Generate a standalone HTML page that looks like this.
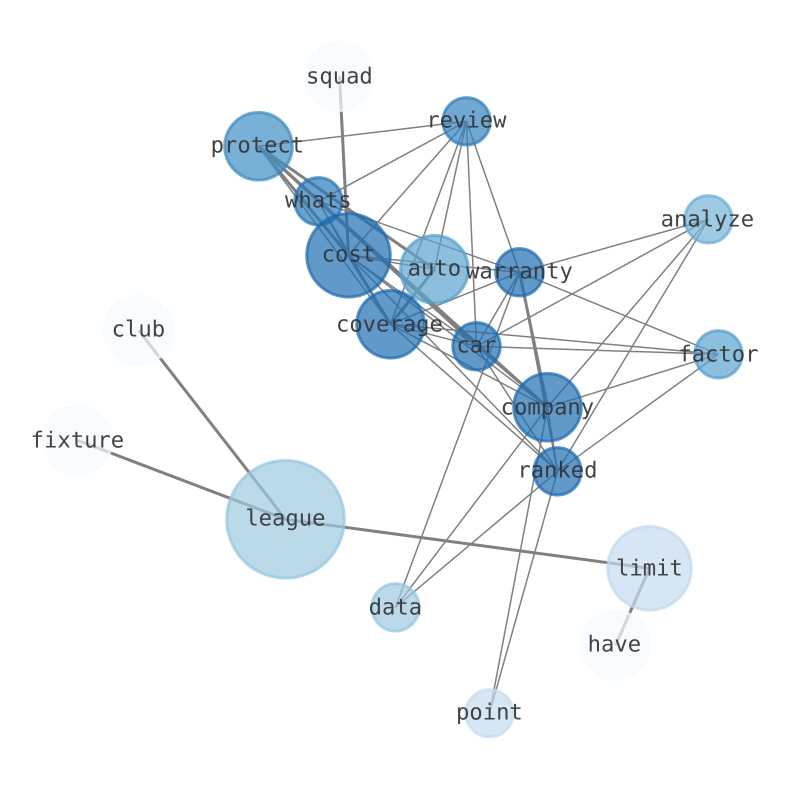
<!DOCTYPE html>
<html>
<head>
<meta charset="utf-8">
<style>
html,body{margin:0;padding:0;background:#fff;width:794px;height:790px;overflow:hidden}
svg{display:block}
text{font-family:"DejaVu Sans Mono","Liberation Mono",monospace;font-size:22.2px;fill:#333;fill-opacity:.92;text-anchor:middle;text-rendering:geometricPrecision}
.e line{stroke:#808080;stroke-width:1.5}
.t line{stroke:#808080;stroke-width:3}
circle{fill-opacity:.7;stroke-opacity:.7;stroke-width:3}
</style>
</head>
<body>
<svg width="794" height="790" viewBox="0 0 794 790" xmlns="http://www.w3.org/2000/svg">
<g transform="translate(.5,.3)">
<g class="e">
<line x1="466" y1="121" x2="258" y2="146"/>
<line x1="466" y1="121" x2="318" y2="201"/>
<line x1="466" y1="121" x2="348" y2="255"/>
<line x1="466" y1="121" x2="434" y2="269"/>
<line x1="466" y1="121" x2="390" y2="324"/>
<line x1="466" y1="121" x2="476" y2="346"/>
<line x1="466" y1="121" x2="519" y2="272"/>
<line x1="708" y1="219" x2="519" y2="272"/>
<line x1="708" y1="219" x2="476" y2="346"/>
<line x1="708" y1="219" x2="547" y2="407"/>
<line x1="708" y1="219" x2="557" y2="471"/>
<line x1="718" y1="354" x2="519" y2="272"/>
<line x1="718" y1="354" x2="476" y2="346"/>
<line x1="718" y1="354" x2="390" y2="324"/>
<line x1="718" y1="354" x2="547" y2="407"/>
<line x1="718" y1="354" x2="557" y2="471"/>
<line x1="519" y1="272" x2="476" y2="346"/>
<line x1="519" y1="272" x2="390" y2="324"/>
<line x1="519" y1="272" x2="348" y2="255"/>
<line x1="519" y1="272" x2="318" y2="201"/>
<line x1="519" y1="272" x2="395" y2="607"/>
<line x1="519" y1="272" x2="557" y2="471"/>
<line x1="395" y1="607" x2="547" y2="407"/>
<line x1="395" y1="607" x2="557" y2="471"/>
<line x1="489" y1="713" x2="547" y2="407"/>
<line x1="489" y1="713" x2="557" y2="471"/>
<line x1="348" y1="255" x2="434" y2="269"/>
<line x1="348" y1="255" x2="476" y2="346"/>
<line x1="348" y1="255" x2="547" y2="407"/>
<line x1="348" y1="255" x2="557" y2="471"/>
<line x1="390" y1="324" x2="476" y2="346"/>
<line x1="390" y1="324" x2="547" y2="407"/>
<line x1="390" y1="324" x2="557" y2="471"/>
<line x1="476" y1="346" x2="547" y2="407"/>
<line x1="476" y1="346" x2="557" y2="471"/>
<line x1="547" y1="407" x2="557" y2="471"/>
<line x1="258" y1="146" x2="318" y2="201"/>
<line x1="258" y1="146" x2="390" y2="324"/>
<line x1="318" y1="201" x2="348" y2="255"/>
<line x1="318" y1="201" x2="390" y2="324"/>
<line x1="318" y1="201" x2="476" y2="346"/>
<line x1="318" y1="201" x2="547" y2="407"/>
</g>
<g class="t">
<line x1="339" y1="76" x2="348" y2="255"/>
<line x1="138" y1="330" x2="285" y2="519"/>
<line x1="77" y1="440" x2="285" y2="519"/>
<line x1="285" y1="519" x2="649" y2="568"/>
<line x1="649" y1="568" x2="615" y2="645"/>
<line x1="519" y1="272" x2="547" y2="407"/>
<line x1="258" y1="146" x2="348" y2="255"/>
<line x1="258" y1="146" x2="434" y2="269"/>
<line x1="258" y1="146" x2="476" y2="346"/>
<line x1="258" y1="146" x2="547" y2="407"/>
<line x1="348" y1="255" x2="390" y2="324"/>
<line x1="434" y1="269" x2="390" y2="324"/>
</g>
<circle cx="339" cy="76" r="34.3" fill="#f7fbff" stroke="#f7fbff"/>
<circle cx="466" cy="121" r="23.7" fill="#3383be" stroke="#2c7cba"/>
<circle cx="258" cy="146" r="33.8" fill="#3f8ec4" stroke="#3a89c1"/>
<circle cx="318" cy="201" r="23.7" fill="#2b7bba" stroke="#2575b7"/>
<circle cx="348" cy="255" r="41.8" fill="#1e6db2" stroke="#1b69af"/>
<circle cx="434" cy="269" r="33.8" fill="#5ba3d0" stroke="#529dcc"/>
<circle cx="519" cy="272" r="23.7" fill="#1e6db2" stroke="#1b69af"/>
<circle cx="708" cy="219" r="23.7" fill="#75b4d8" stroke="#6aaed6"/>
<circle cx="390" cy="324" r="33.8" fill="#1e6db2" stroke="#1b69af"/>
<circle cx="476" cy="346" r="23.7" fill="#1e6db2" stroke="#1b69af"/>
<circle cx="718" cy="354" r="23.7" fill="#5ba3d0" stroke="#529dcc"/>
<circle cx="547" cy="407" r="33.8" fill="#1e6db2" stroke="#1b69af"/>
<circle cx="138" cy="330" r="34.3" fill="#f7fbff" stroke="#f7fbff"/>
<circle cx="77" cy="440" r="34.3" fill="#f7fbff" stroke="#f7fbff"/>
<circle cx="557" cy="471" r="23.7" fill="#1e6db2" stroke="#1b69af"/>
<circle cx="285" cy="519" r="58.8" fill="#9cc9e0" stroke="#94c4df"/>
<circle cx="649" cy="568" r="41.8" fill="#c6dbef" stroke="#c1d9ed"/>
<circle cx="395" cy="607" r="23.7" fill="#9cc9e0" stroke="#94c4df"/>
<circle cx="615" cy="645" r="34.3" fill="#f7fbff" stroke="#f7fbff"/>
<circle cx="489" cy="713" r="23.7" fill="#c6dbef" stroke="#c6dbef"/>
</g>
<g transform="translate(.4,.6)">
<text x="339" y="83">squad</text>
<text x="466" y="127">review</text>
<text x="257" y="152">protect</text>
<text x="318" y="207">whats</text>
<text x="348" y="261">cost</text>
<text x="434" y="275">auto</text>
<text x="519" y="278">warranty</text>
<text x="707" y="226">analyze</text>
<text x="389" y="331">coverage</text>
<text x="476" y="352">car</text>
<text x="718" y="361">factor</text>
<text x="547" y="414">company</text>
<text x="138" y="336">club</text>
<text x="77" y="447">fixture</text>
<text x="557" y="477">ranked</text>
<text x="285" y="525">league</text>
<text x="649" y="575">limit</text>
<text x="395" y="614">data</text>
<text x="614" y="651">have</text>
<text x="489" y="719">point</text>
</g>
</svg>
</body>
</html>
